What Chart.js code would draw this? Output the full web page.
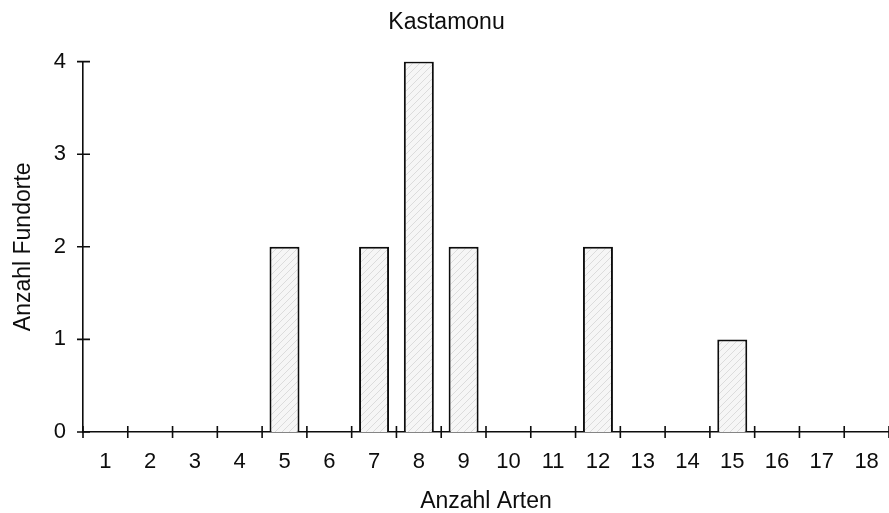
<!DOCTYPE html>
<html>
<head>
<meta charset="utf-8">
<script src="https://cdn.jsdelivr.net/npm/chart.js@4"></script>
<style>
  html, body { margin: 0; padding: 0; background: #fff; }
  #wrap { width: 889px; height: 513px; }
</style>
</head>
<body>
<div id="wrap"><canvas id="bars"></canvas></div>
<script>
const categories = ['1','2','3','4','5','6','7','8','9','10','11','12','13','14','15','16','17','18'];
const fundorte = [0, 0, 0, 0, 2, 0, 2, 4, 2, 0, 0, 2, 0, 0, 1, 0, 0, 0];
const yTicks = [0, 1, 2, 3, 4];

const ink = '#0d0d0d';
const font = 'Liberation Sans, Arial, Helvetica, sans-serif';

// light diagonal hatch like the scanned print
function hatch() {
  const c = document.createElement('canvas');
  c.width = 7; c.height = 7;
  const g = c.getContext('2d');
  g.fillStyle = '#f6f6f6';
  g.fillRect(0, 0, 7, 7);
  g.strokeStyle = '#dcdcdc';
  g.lineWidth = 1;
  g.beginPath();
  g.moveTo(0, 7); g.lineTo(7, 0);
  g.moveTo(-1, 1); g.lineTo(1, -1);
  g.moveTo(6, 8); g.lineTo(8, 6);
  g.stroke();
  return g.createPattern(c, 'repeat');
}

// ticks crossing the axis lines on both sides
const crossTicks = {
  id: 'crossTicks',
  afterDraw(chart) {
    const { ctx, scales: { x, y } } = chart;
    ctx.save();
    ctx.strokeStyle = ink;
    ctx.lineWidth = 1.6;
    ctx.beginPath();
    for (let i = 0; i <= categories.length; i++) {
      const px = i === 0 ? x.getPixelForValue(0) - (x.getPixelForValue(1) - x.getPixelForValue(0)) / 2
                         : (x.getPixelForValue(i - 1) + x.getPixelForValue(i)) / 2;
      ctx.moveTo(px, y.bottom - 6);
      ctx.lineTo(px, y.bottom + 6);
    }
    yTicks.forEach(v => {
      const py = y.getPixelForValue(v);
      ctx.moveTo(x.left - 6, py);
      ctx.lineTo(x.left + 7, py);
    });
    ctx.stroke();
    ctx.restore();
  }
};

new Chart(document.getElementById('bars'), {
  type: 'bar',
  data: {
    labels: categories,
    datasets: [{
      label: 'Anzahl Fundorte',
      data: fundorte,
      backgroundColor: hatch(),
      borderColor: ink,
      borderWidth: ctx => ctx.raw === 0 ? 0 : 2,
      borderSkipped: 'bottom',
      barPercentage: 0.67,
      categoryPercentage: 1
    }]
  },
  options: {
    responsive: true,
    maintainAspectRatio: false,
    animation: false,
    layout: { padding: { top: 0, right: -4, bottom: 0, left: 0 } },
    plugins: {
      legend: { display: false },
      tooltip: { enabled: false },
      title: {
        display: true,
        text: 'Kastamonu',
        color: ink,
        font: { family: font, size: 23, weight: 'normal', lineHeight: 1.2 },
        padding: { top: 9, bottom: 25 }
      }
    },
    scales: {
      x: {
        grid: { display: false, drawTicks: false },
        border: { display: true, color: ink, width: 1.6 },
        ticks: { color: ink, padding: 17, font: { family: font, size: 22 }, maxRotation: 0, autoSkip: false },
        title: { display: true, text: 'Anzahl Arten', color: ink, font: { family: font, size: 23, lineHeight: 1 }, padding: { top: 0, bottom: 0 } },
        afterFit: s => { s.height = 81; s.paddingLeft = 0; s.paddingRight = 0; }
      },
      y: {
        min: 0,
        max: 4,
        afterBuildTicks: s => { s.ticks = yTicks.map(v => ({ value: v })); },
        grid: { display: false, drawTicks: false },
        border: { display: true, color: ink, width: 1.6 },
        ticks: { color: ink, padding: 17, font: { family: font, size: 22 } },
        title: { display: true, text: 'Anzahl Fundorte', color: ink, font: { family: font, size: 23, lineHeight: 1.2 }, padding: { top: 10, bottom: 4 } },
        afterFit: s => { s.width = 83; }
      }
    }
  },
  plugins: [crossTicks]
});
</script>
</body>
</html>
